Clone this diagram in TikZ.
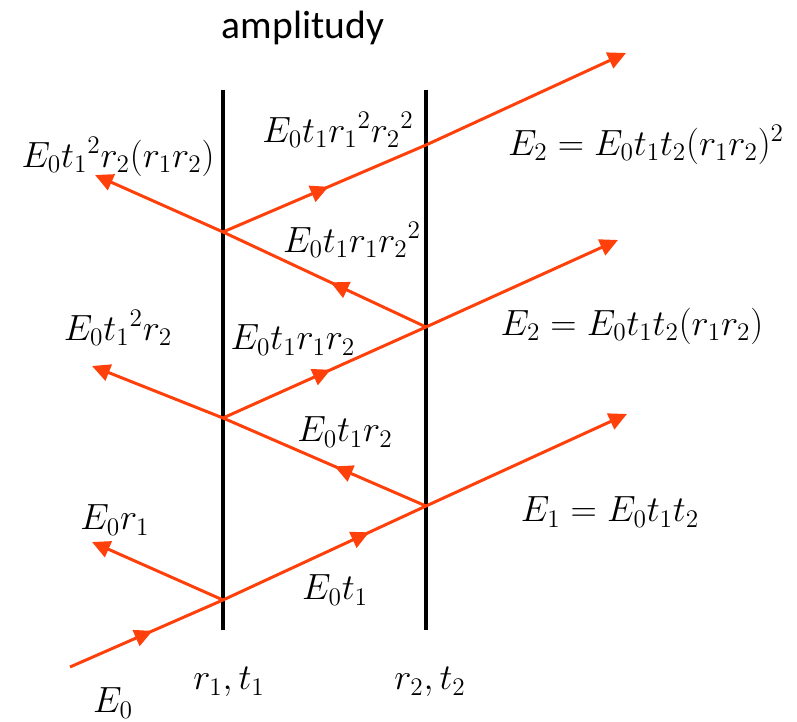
\documentclass[tikz,border=0pt]{standalone}
\usepackage{fontspec}
\usepackage{amsmath}
\usepackage{tikz}
\usetikzlibrary{arrows.meta,decorations.markings}
\newfontfamily\titlefont{Carlito}
\definecolor{beamred}{RGB}{255,64,10}

\begin{document}
\begin{tikzpicture}[x=0.02cm,y=-0.02cm,font=\fontsize{20.5}{24}\selectfont,
  wall/.style={line width=2.2pt},
  beam/.style={draw=beamred,line width=1.7pt},
  midarr/.style={postaction={decorate},decoration={markings,
    mark=at position #1 with {\arrow[beamred]{Triangle[length=3.6mm,width=3.4mm]}}}},
  outarr/.style={-{Triangle[length=3.6mm,width=3.4mm]}},
  lbl/.style={inner sep=0pt}]
  \useasboundingbox (0,0) rectangle (797,722);
  % walls
  \coordinate (w1t) at (223,90); \coordinate (w1b) at (223,630);
  \coordinate (w2t) at (426,90); \coordinate (w2b) at (426,630);
  \draw[wall] (w1t)--(w1b); \draw[wall] (w2t)--(w2b);
  % hit points
  \coordinate (src) at (70,667);
  \coordinate (p1) at (223,600); \coordinate (p2) at (426,506);
  \coordinate (p3) at (223,418); \coordinate (p4) at (426,327);
  \coordinate (p5) at (223,232); \coordinate (p6) at (426,145);
  % free ends
  \coordinate (r1) at (92,542); \coordinate (r2) at (92,366); \coordinate (r3) at (95,175);
  \coordinate (t1) at (627,414); \coordinate (t2) at (618,240); \coordinate (t3) at (626,53);
  % rays
  \draw[beam,midarr=0.54] (src)--(p1);
  \draw[beam,midarr=0.72] (p1)--(p2);
  \draw[beam,midarr=0.45] (p2)--(p3);
  \draw[beam,midarr=0.53] (p3)--(p4);
  \draw[beam,midarr=0.47] (p4)--(p5);
  \draw[beam,midarr=0.52] (p5)--(p6);
  \draw[beam,outarr,beamred] (p1)--(r1);
  \draw[beam,outarr,beamred] (p3)--(r2);
  \draw[beam,outarr,beamred] (p5)--(r3);
  \draw[beam,outarr,beamred] (p2)--(t1);
  \draw[beam,outarr,beamred] (p4)--(t2);
  \draw[beam,outarr,beamred] (p6)--(t3);
  % labels
  \node[lbl] (title) at (303,28) {\titlefont\fontsize{22.5}{26}\selectfont amplitudy};
  \node[lbl] (l0) at (113,703) {$E_0$};
  \node[lbl] (lw1) at (229,682) {$r_1, t_1$};
  \node[lbl] (lw2) at (430,682) {$r_2, t_2$};
  \node[lbl] (la) at (115,520) {$E_0r_1$};
  \node[lbl] (lb) at (335,590) {$E_0t_1$};
  \node[lbl] (lc) at (610,512) {$E_1=E_0t_1t_2$};
  \node[lbl] (ld) at (345,432) {$E_0t_1r_2$};
  \node[lbl] (le) at (118,328) {$E_0{t_1}^2r_2$};
  \node[lbl] (lf) at (293,340) {$E_0t_1r_1r_2$};
  \node[lbl] (lg) at (632,326) {$E_2=E_0t_1t_2(r_1r_2)$};
  \node[lbl] (lh) at (352,240) {$E_0t_1r_1{r_2}^2$};
  \node[lbl] (li) at (118,157) {$E_0{t_1}^2r_2(r_1r_2)$};
  \node[lbl] (lj) at (338,130) {$E_0t_1{r_1}^2{r_2}^2$};
  \node[lbl] (lk) at (646,145) {$E_2=E_0t_1t_2(r_1r_2)^2$};
\end{tikzpicture}
\end{document}
